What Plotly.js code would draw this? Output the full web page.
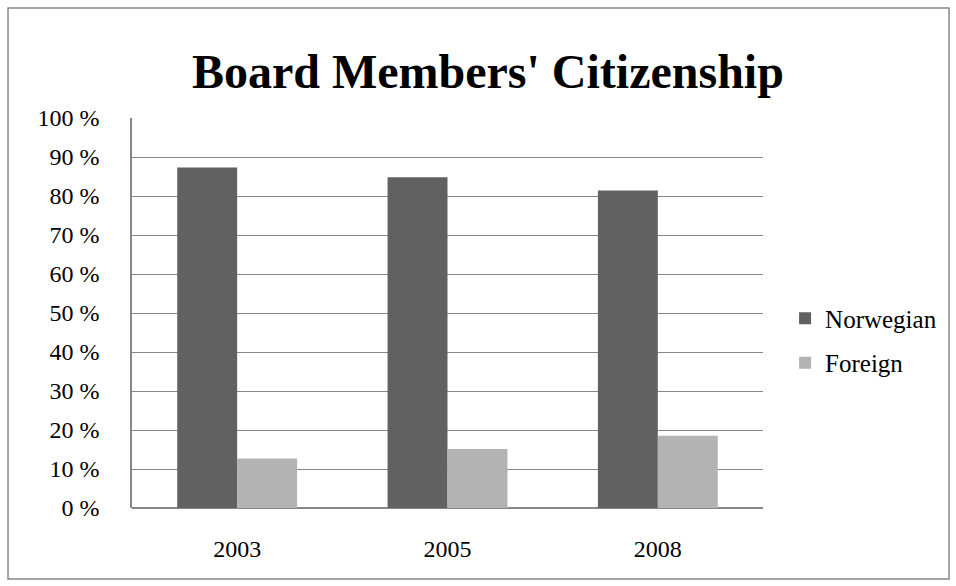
<!DOCTYPE html>
<html>
<head>
<meta charset="utf-8">
<script src="https://cdn.plot.ly/plotly-3.0.1.min.js"></script>
<style>
html, body { margin: 0; padding: 0; background: #ffffff; }
#chart { width: 956px; height: 586px; }
</style>
</head>
<body>
<div id="chart"></div>
<script>
const years = ['2003', '2005', '2008'];
const norwegian = [87.3, 84.8, 81.4];
const foreign = [12.7, 15.1, 18.5];
const yTickVals = [0, 10, 20, 30, 40, 50, 60, 70, 80, 90, 100];
const yTickText = ['0 %', '10 %', '20 %', '30 %', '40 %', '50 %', '60 %', '70 %', '80 %', '90 %', '100 %'];

const serif = 'Liberation Serif, Times New Roman, serif';

const traces = [
  {
    type: 'bar', name: 'Norwegian', x: years, y: norwegian,
    marker: { color: '#616161' }, legendgroup: 'a', hoverinfo: 'x+y'
  },
  {
    type: 'bar', name: 'Foreign', x: years, y: foreign,
    marker: { color: '#b3b3b3' }, legendgroup: 'b', hoverinfo: 'x+y'
  }
];

const layout = {
  width: 956, height: 586,
  margin: { l: 132, r: 193, t: 118, b: 78, pad: 0 },
  paper_bgcolor: '#ffffff', plot_bgcolor: '#ffffff',
  font: { family: serif, size: 24, color: '#000000' },
  title: {
    text: "<b>Board Members' Citizenship</b>",
    font: { family: serif, size: 48, color: '#000000' },
    xref: 'paper', x: 0.564, xanchor: 'center',
    yref: 'container', y: 1 - 71 / 586, yanchor: 'middle'
  },
  barmode: 'group', bargap: 0.43, bargroupgap: 0,
  xaxis: {
    type: 'category', showgrid: false, zeroline: false,
    showline: false, ticks: '', ticklabelstandoff: 24,
    tickfont: { family: serif, size: 24, color: '#000000' }
  },
  yaxis: {
    range: [0, 100], tickvals: yTickVals, ticktext: yTickText,
    showgrid: true, gridcolor: '#878787', gridwidth: 1.3,
    zeroline: true, zerolinecolor: '#878787', zerolinewidth: 1.5,
    showline: true, linecolor: '#878787', linewidth: 1.5,
    ticks: '', ticklabelstandoff: 26,
    tickfont: { family: serif, size: 24, color: '#000000' }
  },
  legend: {
    x: 1.035, xanchor: 'left', y: 0.4295, yanchor: 'middle',
    font: { family: serif, size: 25, color: '#000000' },
    traceorder: 'grouped', tracegroupgap: 9,
    bgcolor: 'rgba(0,0,0,0)', borderwidth: 0
  },
  shapes: [{
    type: 'rect', xref: 'paper', yref: 'paper',
    x0: -0.1965, x1: 1.2948, y0: -0.182, y1: 1.282,
    line: { color: '#888888', width: 1.5 }, fillcolor: 'rgba(0,0,0,0)', layer: 'below'
  }]
};

Plotly.newPlot('chart', traces, layout, { displayModeBar: false, responsive: false });
</script>
</body>
</html>
